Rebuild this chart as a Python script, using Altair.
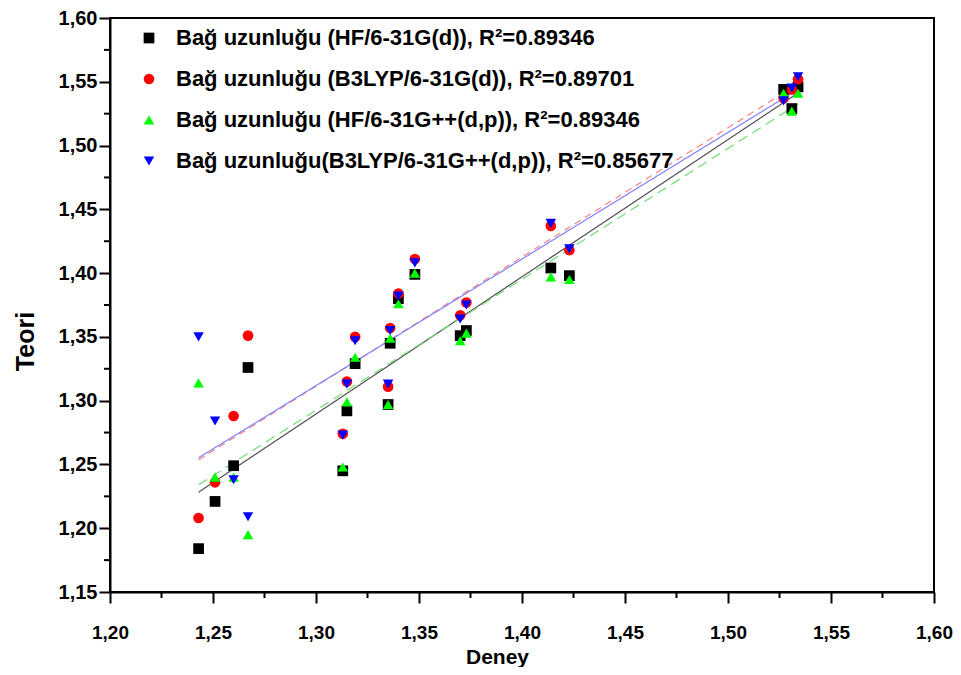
import altair as alt
import pandas as pd

# Experimental bond lengths (Deney) and theoretical values (Teori) per method
deney = [1.243, 1.251, 1.260, 1.267, 1.313, 1.315, 1.319, 1.335, 1.336,
         1.340, 1.348, 1.370, 1.373, 1.414, 1.423, 1.527, 1.531, 1.534]
hf_d = [1.184, 1.221, 1.249, 1.326, 1.245, 1.292, 1.329, 1.297, 1.345,
        1.380, 1.399, 1.351, 1.355, 1.404, 1.398, 1.544, 1.529, 1.546]
b3_d = [1.208, 1.236, 1.288, 1.351, 1.274, 1.315, 1.350, 1.311, 1.357,
        1.384, 1.411, 1.367, 1.377, 1.437, 1.418, 1.537, 1.544, 1.552]
hf_dp = [1.314, 1.240, 1.240, 1.195, 1.248, 1.299, 1.334, 1.297, 1.349,
         1.376, 1.400, 1.347, 1.353, 1.397, 1.395, 1.541, 1.527, 1.541]
b3_dp = [1.350, 1.284, 1.238, 1.209, 1.273, 1.313, 1.347, 1.313, 1.355,
         1.382, 1.408, 1.364, 1.375, 1.439, 1.419, 1.535, 1.545, 1.554]

series_names = [
    "Bağ uzunluğu (HF/6-31G(d)), R²=0.89346",
    "Bağ uzunluğu (B3LYP/6-31G(d)), R²=0.89701",
    "Bağ uzunluğu (HF/6-31G++(d,p)), R²=0.89346",
    "Bağ uzunluğu(B3LYP/6-31G++(d,p)), R²=0.85677",
]
marker_colors = ["#000000", "#ff0000", "#00ff00", "#0000ff"]
marker_shapes = ["square", "circle", "triangle-up", "triangle-down"]
marker_sizes = [115, 110, 140, 140]
line_colors = ["#505050", "#ff8080", "#70dd70", "#8080ff"]
line_dashes = [[1, 0], [7, 5], [10, 6], [1, 0]]

x_ticks = [1.20, 1.25, 1.30, 1.35, 1.40, 1.45, 1.50, 1.55, 1.60]
y_ticks = [1.15, 1.20, 1.25, 1.30, 1.35, 1.40, 1.45, 1.50, 1.55, 1.60]
x_minor = [1.225, 1.275, 1.325, 1.375, 1.425, 1.475, 1.525, 1.575]
y_minor = [1.175, 1.225, 1.275, 1.325, 1.375, 1.425, 1.475, 1.525, 1.575]

rows = []
for name, vals in zip(series_names, [hf_d, b3_d, hf_dp, b3_dp]):
    for d, t in zip(deney, vals):
        rows.append({"Deney": d, "Teori": t, "Seri": name})
df = pd.DataFrame(rows)

W, H = 824, 574
FONT = "Liberation Sans"
label_expr = "replace(format(datum.value, '.2f'), '.', ',')"

xscale = alt.Scale(domain=[1.20, 1.60], nice=False, zero=False)
yscale = alt.Scale(domain=[1.15, 1.60], nice=False, zero=False)

x_axis = alt.Axis(values=x_ticks, labelExpr=label_expr, grid=False,
                  labelFlush=False, labelOverlap=False,
                  tickSize=11, tickWidth=2, tickColor="black",
                  domainWidth=2, domainColor="black",
                  labelFont=FONT, labelFontSize=19, labelFontWeight="bold",
                  labelColor="black", labelPadding=20,
                  title="Deney", titleFont=FONT, titleFontSize=21,
                  titleFontWeight="bold", titleColor="black",
                  titleX=387, titleY=65, titleBaseline="middle")
y_axis = alt.Axis(values=y_ticks, labelExpr=label_expr, grid=False,
                  labelFlush=False, labelOverlap=False,
                  tickSize=11, tickWidth=2, tickColor="black",
                  domainWidth=2, domainColor="black",
                  labelFont=FONT, labelFontSize=20, labelFontWeight="bold",
                  labelColor="black", labelPadding=2,
                  title="Teori", titleFont=FONT, titleFontSize=25,
                  titleFontWeight="bold", titleColor="black",
                  titleX=-85, titleY=323, titleBaseline="middle")

layers = []

# regression lines
for name, lc, dash in zip(series_names, line_colors, line_dashes):
    layers.append(
        alt.Chart(df)
        .transform_filter(alt.datum.Seri == name)
        .transform_regression("Deney", "Teori")
        .mark_line(color=lc, strokeDash=dash, strokeWidth=1.2)
        .encode(x=alt.X("Deney:Q", scale=xscale, axis=x_axis),
                y=alt.Y("Teori:Q", scale=yscale, axis=y_axis))
    )

legend = alt.Legend(title=None, orient="none", legendX=28, legendY=9,
                    padding=0, rowPadding=19, labelOffset=16,
                    symbolStrokeWidth=0,
                    labelFont=FONT, labelFontSize=22, labelFontWeight="bold",
                    labelColor="black", labelLimit=0)

points = alt.Chart(df).mark_point(filled=True, opacity=1).encode(
    x=alt.X("Deney:Q", scale=xscale, axis=x_axis),
    y=alt.Y("Teori:Q", scale=yscale, axis=y_axis),
    color=alt.Color("Seri:N", scale=alt.Scale(domain=series_names, range=marker_colors),
                    legend=legend, sort=series_names),
    shape=alt.Shape("Seri:N", scale=alt.Scale(domain=series_names, range=marker_shapes),
                    legend=legend, sort=series_names),
    size=alt.Size("Seri:N", scale=alt.Scale(domain=series_names, range=marker_sizes),
                  legend=legend, sort=series_names),
)
layers.append(points)

# minor ticks
xminor = alt.Chart(pd.DataFrame({"v": x_minor})).mark_rule(color="black", strokeWidth=2).encode(
    x=alt.X("v:Q", scale=xscale, axis=x_axis),
    y=alt.value(H), y2=alt.value(H + 6))
yminor = alt.Chart(pd.DataFrame({"v": y_minor})).mark_rule(color="black", strokeWidth=2).encode(
    y=alt.Y("v:Q", scale=yscale, axis=y_axis),
    x=alt.value(0), x2=alt.value(-6))
layers += [xminor, yminor]

chart = alt.layer(*layers).properties(
    width=W, height=H,
    autosize=alt.AutoSizeParams(type="none"),
    padding={"left": 102, "top": 10, "right": 19, "bottom": 75},
).configure(font=FONT).configure_view(stroke="black", strokeWidth=2)

chart.save("out.html", embed_options={"renderer": "svg", "actions": False})
